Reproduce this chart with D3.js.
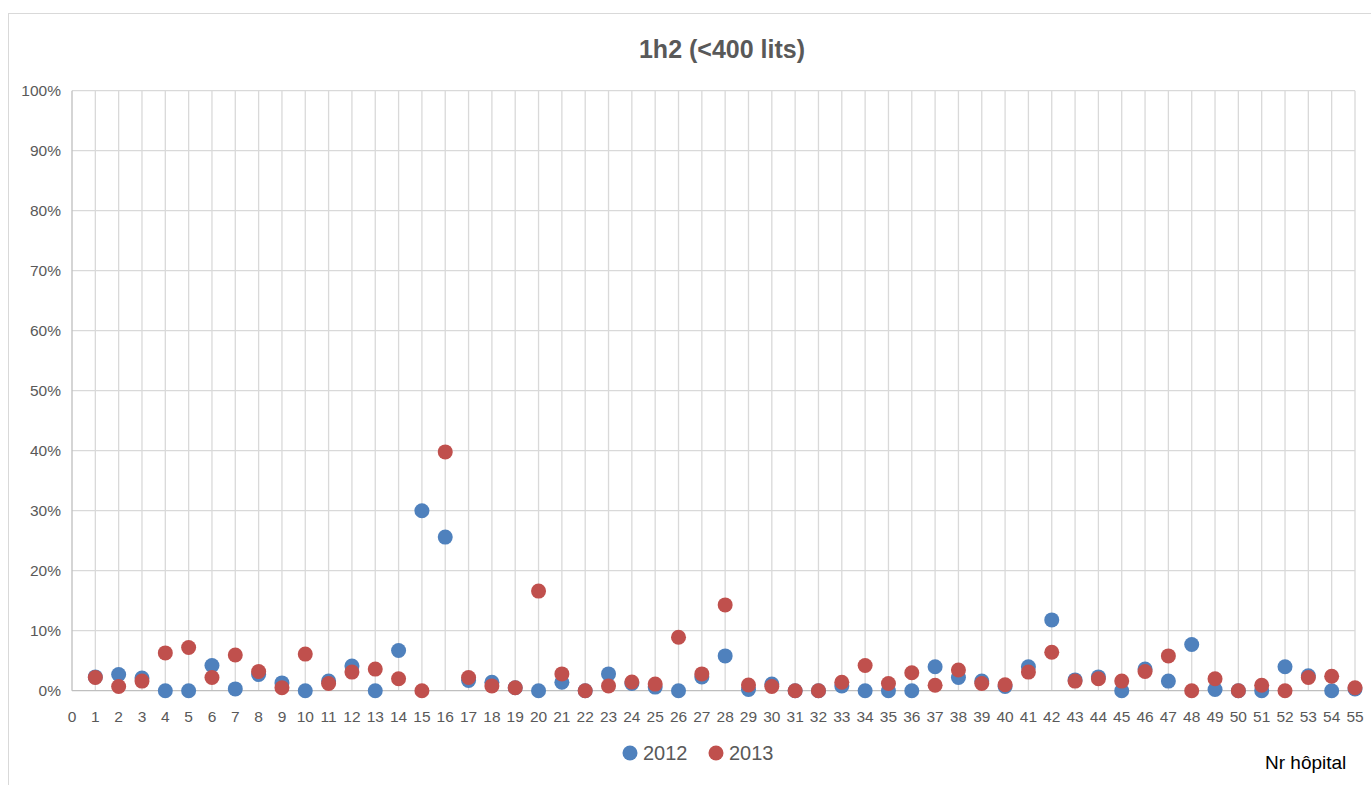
<!DOCTYPE html>
<html>
<head>
<meta charset="utf-8">
<script src="https://cdn.jsdelivr.net/npm/d3@7"></script>
<style>
  body { margin: 0; background: #fff; }
  svg { display: block; font-family: "Liberation Sans", Arial, sans-serif; }
</style>
</head>
<body>
<svg id="chart" width="1371" height="785"></svg>
<script>
"use strict";

// hospital numbers 1..55
var hospitals = [1,2,3,4,5,6,7,8,9,10,11,12,13,14,15,16,17,18,19,20,21,22,23,24,25,26,27,28,29,30,
  31,32,33,34,35,36,37,38,39,40,41,42,43,44,45,46,47,48,49,50,51,52,53,54,55];

// share (%) per hospital
var values2012 = [2.3,2.7,2.1,0,0,4.2,0.3,2.7,1.3,0,1.6,4.1,0,6.7,30.0,25.6,1.7,1.4,0.5,0,
  1.4,0,2.8,1.2,0.6,0,2.3,5.8,0.2,1.1,0,0,0.8,0,0,0,4.0,2.2,1.6,0.7,
  4.0,11.8,1.8,2.3,0,3.6,1.6,7.7,0.2,0,0,4.0,2.5,0,0.3];
var values2013 = [2.2,0.7,1.6,6.3,7.2,2.2,5.95,3.2,0.5,6.1,1.2,3.1,3.6,2.0,0,39.8,2.2,0.8,0.5,16.6,
  2.8,0,0.8,1.45,1.1,8.9,2.8,14.3,0.95,0.7,0,0,1.4,4.2,1.2,3.0,0.9,3.45,1.2,1.0,
  3.1,6.4,1.6,2.0,1.6,3.2,5.8,0,2.0,0,0.9,0,2.2,2.4,0.5];

var seriesNames = ["2012", "2013"];
var seriesColors = ["#4F81BD", "#C0504D"];
var yTicks = [0,10,20,30,40,50,60,70,80,90,100];

var svg = d3.select("#chart");

// chart frame
svg.append("rect")
  .attr("x", 8.5).attr("y", 13.5)
  .attr("width", 1370).attr("height", 780)
  .attr("fill", "none").attr("stroke", "#d9d9d9");

var x = d3.scaleLinear().domain([0, 55]).range([72, 1355]);
var y = d3.scaleLinear().domain([0, 100]).range([690.7, 90.7]);

// gridlines
var grid = svg.append("g");
grid.selectAll("line.v")
  .data(d3.range(1, 56))
  .enter().append("line")
  .attr("x1", d => x(d)).attr("x2", d => x(d))
  .attr("y1", y(100)).attr("y2", y(0))
  .attr("stroke", "#d9d9d9").attr("stroke-width", 1.3);
grid.selectAll("line.h")
  .data(yTicks.slice(1))
  .enter().append("line")
  .attr("x1", x(0)).attr("x2", x(55))
  .attr("y1", d => y(d)).attr("y2", d => y(d))
  .attr("stroke", "#d9d9d9").attr("stroke-width", 1.3);

// axes lines
svg.append("line")
  .attr("x1", x(0)).attr("x2", x(0)).attr("y1", y(100)).attr("y2", y(0))
  .attr("stroke", "#bfbfbf").attr("stroke-width", 1.3);
svg.append("line")
  .attr("x1", x(0)).attr("x2", x(55)).attr("y1", y(0)).attr("y2", y(0))
  .attr("stroke", "#bfbfbf").attr("stroke-width", 1.3);

// y labels
svg.append("g").selectAll("text")
  .data(yTicks)
  .enter().append("text")
  .attr("x", 61).attr("y", d => y(d))
  .attr("dy", "0.35em")
  .attr("text-anchor", "end")
  .attr("font-size", 15.5).attr("fill", "#595959")
  .text(d => d + "%");

// x labels
svg.append("g").selectAll("text")
  .data(d3.range(0, 56))
  .enter().append("text")
  .attr("x", d => x(d)).attr("y", 722)
  .attr("text-anchor", "middle")
  .attr("font-size", 15.5).attr("fill", "#595959")
  .text(d => d);

// points
var series = [values2012, values2013];
series.forEach(function(vals, i) {
  svg.append("g").selectAll("circle")
    .data(vals)
    .enter().append("circle")
    .attr("cx", (d, j) => x(hospitals[j]))
    .attr("cy", d => y(d))
    .attr("r", 7.5)
    .attr("fill", seriesColors[i]);
});

// title
svg.append("text")
  .attr("x", 722).attr("y", 58)
  .attr("text-anchor", "middle")
  .attr("font-size", 25).attr("font-weight", "bold").attr("fill", "#595959")
  .text("1h2 (<400 lits)");

// legend
var legend = svg.append("g");
var legX = [630, 716];
seriesNames.forEach(function(name, i) {
  legend.append("circle")
    .attr("cx", legX[i]).attr("cy", 753).attr("r", 7.5)
    .attr("fill", seriesColors[i]);
  legend.append("text")
    .attr("x", legX[i] + 13).attr("y", 760)
    .attr("font-size", 20).attr("fill", "#595959")
    .text(name);
});

// axis title
svg.append("text")
  .attr("x", 1265).attr("y", 769)
  .attr("font-size", 19).attr("fill", "#000")
  .text("Nr hôpital");
</script>
</body>
</html>
